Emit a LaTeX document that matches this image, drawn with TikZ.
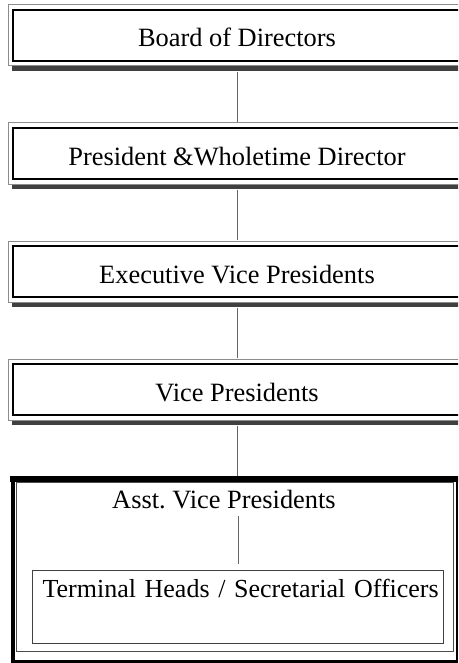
\documentclass[tikz,border=0pt]{standalone}
\usepackage{fontspec}
\setmainfont{Liberation Serif}
\frenchspacing
\begin{document}
\begin{tikzpicture}[x=1pt,y=-1pt,
  lbl/.style={font=\fontsize{26.4}{30}\selectfont},
  rankbox/.style={lbl, draw=black, line width=1.2pt, fill=white,
    minimum width=448pt, minimum height=51pt, inner sep=0pt,
    text height=26pt, text depth=3pt},
  conn/.style={draw=black!60, line width=1pt}]
\useasboundingbox (0,0) rectangle (458,663);
\clip (0,0) rectangle (458,663);
% frames and shadows of the four rank boxes
\foreach \t in {5,123,241,359} {
  \fill[black!75] (12,\t+61) rectangle (470,\t+66);
  \draw[black!45, line width=1pt, fill=white] (8,\t) rectangle (466,\t+61);
}
\node[rankbox] (bod) at (237,35.5) {Board of Directors};
\node[rankbox] (pwd) at (237,153.5) {President \&Wholetime Director};
\node[rankbox] (evp) at (237,271.5) {Executive Vice Presidents};
\node[rankbox] (vp)  at (237,389.5) {Vice Presidents};
% connectors
\draw[conn] ([yshift=-10pt]bod.south) -- ([yshift=5pt]pwd.north);
\draw[conn] ([yshift=-10pt]pwd.south) -- ([yshift=5pt]evp.north);
\draw[conn] ([yshift=-10pt]evp.south) -- ([yshift=5pt]vp.north);
% large box
\node[draw=black, line width=1.2pt, fill=white, minimum width=445pt,
  minimum height=185pt, inner sep=0pt] (avpbox) at (234.5,569.5) {};
\fill[black] ([xshift=-1pt]avpbox.north west) rectangle (470,482);
\fill[black] (avpbox.north west) rectangle ([xshift=4pt]avpbox.south west);
\fill[black] (avpbox.south west) rectangle ([yshift=2.5pt]avpbox.south east);
\draw[black!70, line width=1pt] (16.5,482.5) rectangle (453,651);
\draw[conn] ([yshift=-10pt]vp.south) -- (avpbox.north -| vp.south);
\node[lbl, anchor=base, inner sep=0pt, text depth=8pt] (avp) at (224,508)
  {Asst. Vice Presidents};
\node[font=\fontsize{26}{30}\selectfont, draw=black!75, line width=1pt,
  anchor=north west, text width=391pt, inner xsep=10pt, inner ysep=0pt,
  minimum height=73pt, align=left, text height=18pt, text depth=37pt]
  (th) at (32,570) {\mbox{Terminal Heads / Secretarial Officers}};
\draw[conn] (avp.south -| th.north) -- ([yshift=6pt]th.north);
\end{tikzpicture}
\end{document}
